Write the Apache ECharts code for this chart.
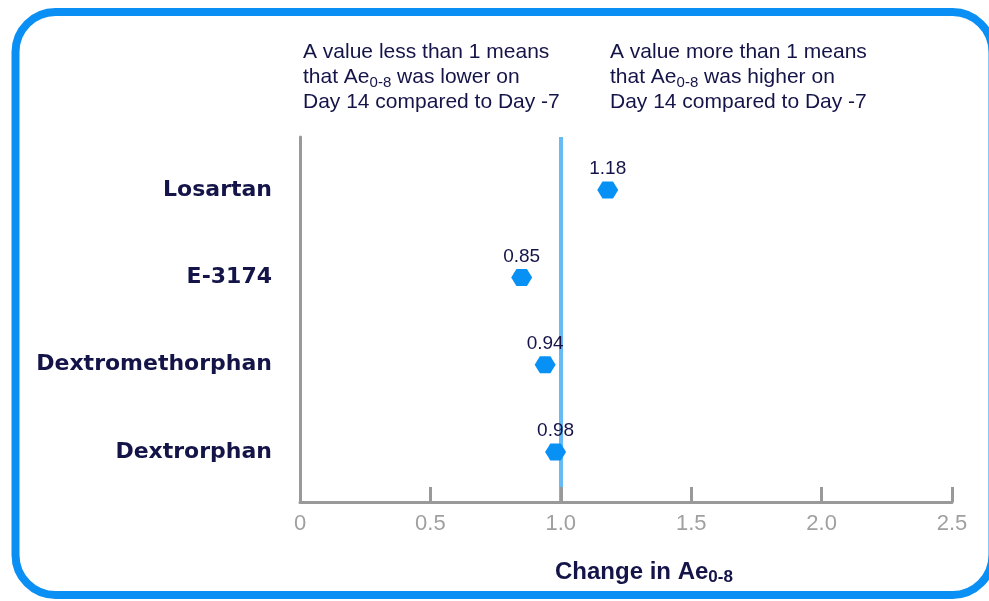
<!DOCTYPE html>
<html>
<head>
<meta charset="utf-8">
<title>Change in Ae0-8</title>
<script src="https://cdn.jsdelivr.net/npm/echarts@6/dist/echarts.min.js"></script>
<style>
	html, body { margin: 0; padding: 0; background: #ffffff; }
	#chartDiv { width: 989px; height: 601px; }
</style>
</head>
<body>
<div id="chartDiv"></div>
<script>
// 药物名称（从上到下）
var drugNames = ['Losartan', 'E-3174', 'Dextromethorphan', 'Dextrorphan'];
// Day 14 / Day -7 比值
var ratioValues = [1.18, 0.85, 0.94, 0.98];
// x 轴刻度
var xTickValues = [0, 0.5, 1.0, 1.5, 2.0, 2.5];
var xTickLabels = ['0', '0.5', '1.0', '1.5', '2.0', '2.5'];
// 参考线
var refValue = 1.0;

var navy = '#141449';

/**
 * 生成图表
 */
function createChart() {
	var myChart = echarts.init(document.getElementById('chartDiv'), null, { renderer: 'canvas' });
	var n = drugNames.length;

	// 每个点：[比值, 行号]，行号自下而上
	var points = ratioValues.map(function(v, i) {
		return [v, n - 1 - i];
	});

	var option = {
		animation: false,
		grid: { left: 300, right: 37, top: 137, bottom: 99 },
		xAxis: {
			type: 'value',
			min: 0,
			max: 2.5,
			interval: 0.5,
			z: 5,
			axisLine: { onZero: false, lineStyle: { color: '#999999', width: 3 } },
			axisTick: {
				show: true,
				inside: true,
				length: 15,
				lineStyle: { color: '#999999', width: 3 }
			},
			splitLine: { show: false },
			axisLabel: {
				color: '#a0a0a0',
				fontFamily: 'Liberation Sans',
				fontSize: 22,
				margin: 11,
				formatter: function(val) {
					var idx = xTickValues.indexOf(val);
					return idx >= 0 ? xTickLabels[idx] : '';
				}
			}
		},
		yAxis: {
			type: 'value',
			min: -0.573,
			max: 3.608,
			axisLine: { show: true, onZero: false, lineStyle: { color: '#999999', width: 3 } },
			axisTick: { show: false },
			splitLine: { show: false },
			axisLabel: {
				customValues: [0, 1, 2, 3],
				color: navy,
				fontFamily: 'DejaVu Sans',
				fontWeight: 'bold',
				fontSize: 22,
				margin: 28,
				formatter: function(val) {
					return drugNames[n - 1 - Math.round(val)];
				}
			}
		},
		series: [{
			type: 'scatter',
			data: points,
			symbol: 'path://M0,5 L2.9,0 L8.7,0 L11.6,5 L8.7,10 L2.9,10 Z',
			symbolSize: [21, 17],
			itemStyle: { color: '#0891f5', opacity: 1 },
			label: {
				show: true,
				position: 'top',
				distance: 3,
				color: navy,
				fontFamily: 'Liberation Sans',
				fontSize: 19,
				formatter: function(p) {
					return p.value[0].toFixed(2);
				}
			},
			markLine: {
				silent: true,
				symbol: 'none',
				label: { show: false },
				lineStyle: { color: '#66bbf5', width: 4, type: 'solid' },
				data: [{ xAxis: refValue }],
				z: 1
			},
			z: 3
		}],
		graphic: [{
			// 外框
			type: 'rect',
			shape: { x: 15.5, y: 12, width: 977, height: 583, r: 40 },
			style: { fill: 'none', stroke: '#0a8ff5', lineWidth: 8 },
			silent: true
		}, {
			type: 'text',
			left: 303,
			top: 40,
			style: {
				text: 'A value less than 1 means\nthat Ae{s|0-8} was lower on\nDay 14 compared to Day -7',
				fill: navy,
				font: '21px "Liberation Sans"',
				lineHeight: 25,
				rich: {
					s: { fontSize: 15, fontFamily: 'Liberation Sans', fill: navy, lineHeight: 15, verticalAlign: 'bottom' }
				}
			}
		}, {
			type: 'text',
			left: 610,
			top: 40,
			style: {
				text: 'A value more than 1 means\nthat Ae{s|0-8} was higher on\nDay 14 compared to Day -7',
				fill: navy,
				font: '21px "Liberation Sans"',
				lineHeight: 25,
				rich: {
					s: { fontSize: 15, fontFamily: 'Liberation Sans', fill: navy, lineHeight: 15, verticalAlign: 'bottom' }
				}
			}
		}, {
			// x 轴标题
			type: 'text',
			left: 555,
			top: 559,
			style: {
				text: 'Change in Ae{s|0-8}',
				fill: navy,
				font: 'bold 24px "Liberation Sans"',
				lineHeight: 27,
				rich: {
					s: { fontSize: 17, fontWeight: 'bold', fontFamily: 'Liberation Sans', fill: navy, lineHeight: 16, verticalAlign: 'bottom' }
				}
			}
		}]
	};

	myChart.setOption(option);
}

createChart();
</script>
</body>
</html>
